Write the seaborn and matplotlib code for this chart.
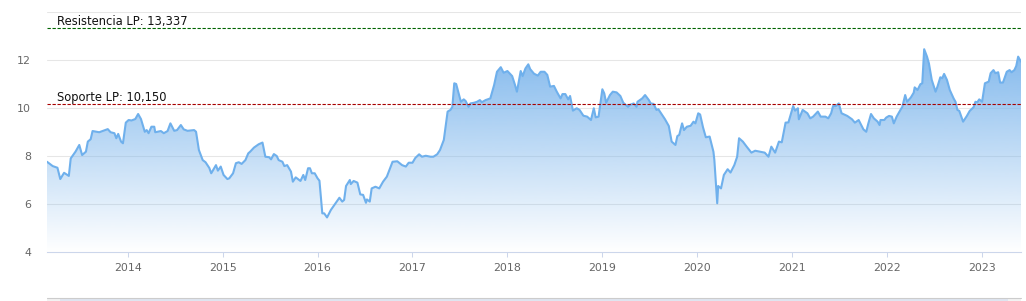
import numpy as np
import matplotlib
matplotlib.use("Agg")
import matplotlib.pyplot as plt
from matplotlib.patches import Polygon, Rectangle
from matplotlib.lines import Line2D
import seaborn as sns

# ---------------- data ----------------
years = [
    2013.15, 2013.21, 2013.26, 2013.29, 2013.33, 2013.38, 2013.40, 2013.45, 2013.49, 2013.52,
    2013.56, 2013.58, 2013.61, 2013.63, 2013.70, 2013.79, 2013.82, 2013.86, 2013.88, 2013.90,
    2013.93, 2013.95, 2013.98, 2014.01, 2014.04, 2014.08, 2014.11, 2014.14, 2014.18, 2014.20,
    2014.22, 2014.25, 2014.28, 2014.29, 2014.35, 2014.38, 2014.42, 2014.45, 2014.49, 2014.52,
    2014.56, 2014.59, 2014.63, 2014.70, 2014.72, 2014.75, 2014.79, 2014.82, 2014.86, 2014.88,
    2014.93, 2014.95, 2014.98, 2015.01, 2015.05, 2015.07, 2015.11, 2015.14, 2015.17, 2015.20,
    2015.24, 2015.27, 2015.29, 2015.33, 2015.38, 2015.42, 2015.45, 2015.49, 2015.51, 2015.54,
    2015.57, 2015.59, 2015.63, 2015.65, 2015.68, 2015.72, 2015.74, 2015.77, 2015.82, 2015.85,
    2015.87, 2015.90, 2015.92, 2015.94, 2015.97, 2016.00, 2016.02, 2016.05, 2016.07, 2016.10,
    2016.14, 2016.19, 2016.23, 2016.26, 2016.28, 2016.30, 2016.34, 2016.35, 2016.38, 2016.42,
    2016.45, 2016.48, 2016.51, 2016.52, 2016.55, 2016.57, 2016.61, 2016.65, 2016.69, 2016.73,
    2016.79, 2016.84, 2016.89, 2016.93, 2016.96, 2017.00, 2017.03, 2017.07, 2017.10, 2017.14,
    2017.19, 2017.22, 2017.26, 2017.29, 2017.33, 2017.37, 2017.40, 2017.42, 2017.44, 2017.46,
    2017.51, 2017.54, 2017.56, 2017.59, 2017.61, 2017.65, 2017.68, 2017.71, 2017.73, 2017.77,
    2017.82, 2017.86, 2017.89, 2017.93, 2017.96, 2018.00, 2018.05, 2018.08, 2018.10, 2018.14,
    2018.16, 2018.19, 2018.22, 2018.24, 2018.28, 2018.32, 2018.35, 2018.39, 2018.42, 2018.45,
    2018.49, 2018.52, 2018.56, 2018.58, 2018.61, 2018.64, 2018.66, 2018.69, 2018.73, 2018.76,
    2018.80, 2018.84, 2018.88, 2018.91, 2018.93, 2018.96, 2019.00, 2019.02, 2019.04, 2019.08,
    2019.11, 2019.15, 2019.19, 2019.22, 2019.27, 2019.29, 2019.33, 2019.36, 2019.37, 2019.42,
    2019.45, 2019.49, 2019.51, 2019.54, 2019.57, 2019.59, 2019.63, 2019.66, 2019.70, 2019.73,
    2019.77, 2019.79, 2019.81, 2019.84, 2019.86, 2019.89, 2019.93, 2019.96, 2019.98, 2020.01,
    2020.03, 2020.06, 2020.09, 2020.13, 2020.17, 2020.18, 2020.21, 2020.22, 2020.25, 2020.28,
    2020.32, 2020.35, 2020.39, 2020.42, 2020.44, 2020.48, 2020.52, 2020.57, 2020.61, 2020.66,
    2020.71, 2020.75, 2020.78, 2020.82, 2020.86, 2020.89, 2020.93, 2020.96, 2021.01, 2021.03,
    2021.06, 2021.07, 2021.11, 2021.16, 2021.19, 2021.22, 2021.27, 2021.30, 2021.35, 2021.38,
    2021.41, 2021.43, 2021.46, 2021.49, 2021.52, 2021.58, 2021.63, 2021.66, 2021.70, 2021.75,
    2021.78, 2021.80, 2021.83, 2021.86, 2021.90, 2021.92, 2021.93, 2021.97, 2021.99, 2022.02,
    2022.05, 2022.07, 2022.10, 2022.14, 2022.16, 2022.19, 2022.21, 2022.25, 2022.28, 2022.29,
    2022.32, 2022.35, 2022.37, 2022.39, 2022.42, 2022.44, 2022.47, 2022.51, 2022.53, 2022.56,
    2022.58, 2022.60, 2022.63, 2022.66, 2022.70, 2022.72, 2022.74, 2022.76, 2022.80, 2022.84,
    2022.87, 2022.91, 2022.93, 2022.95, 2022.97, 2023.00, 2023.03, 2023.07, 2023.09, 2023.12,
    2023.14, 2023.17, 2023.19, 2023.22, 2023.26, 2023.29, 2023.31, 2023.34, 2023.36, 2023.38,
    2023.41,
]
prices = [
    7.76, 7.58, 7.51, 7.04, 7.30, 7.17, 7.90, 8.18, 8.46, 8.04,
    8.18, 8.60, 8.70, 9.04, 8.99, 9.12, 8.99, 8.95, 8.74, 8.92,
    8.60, 8.53, 9.39, 9.50, 9.48, 9.54, 9.75, 9.54, 9.01, 9.08,
    8.95, 9.22, 9.22, 8.99, 9.04, 8.95, 9.04, 9.36, 9.05, 9.08,
    9.29, 9.11, 9.05, 9.08, 9.01, 8.25, 7.83, 7.74, 7.50, 7.28,
    7.62, 7.39, 7.56, 7.21, 7.04, 7.07, 7.28, 7.70, 7.74, 7.67,
    7.83, 8.11, 8.18, 8.35, 8.49, 8.56, 7.97, 7.95, 7.86, 8.08,
    8.00, 7.83, 7.76, 7.58, 7.62, 7.35, 6.93, 7.11, 6.96, 7.21,
    7.00, 7.49, 7.49, 7.28, 7.28, 7.07, 6.97, 5.61, 5.61, 5.44,
    5.75, 6.03, 6.26, 6.10, 6.17, 6.75, 7.00, 6.83, 6.96, 6.89,
    6.40, 6.38, 6.05, 6.19, 6.10, 6.65, 6.72, 6.65, 6.93, 7.14,
    7.76, 7.78, 7.62, 7.56, 7.72, 7.72, 7.92, 8.07, 7.97, 8.01,
    7.97, 7.97, 8.07, 8.25, 8.67, 9.85, 9.92, 10.05, 11.03, 11.00,
    10.26, 10.36, 10.29, 10.05, 10.19, 10.22, 10.26, 10.33, 10.24, 10.33,
    10.40, 10.96, 11.51, 11.70, 11.47, 11.54, 11.33, 10.96, 10.68, 11.54,
    11.33, 11.65, 11.82, 11.62, 11.43, 11.35, 11.51, 11.51, 11.38, 10.89,
    10.92, 10.68, 10.40, 10.58, 10.58, 10.36, 10.50, 9.89, 9.99, 9.92,
    9.68, 9.64, 9.50, 9.99, 9.61, 9.64, 10.78, 10.61, 10.22, 10.54,
    10.68, 10.65, 10.50, 10.22, 10.05, 10.13, 10.19, 10.05, 10.26, 10.40,
    10.54, 10.33, 10.19, 10.17, 9.92, 9.95, 9.71, 9.53, 9.25, 8.60,
    8.46, 8.83, 8.88, 9.36, 9.08, 9.22, 9.26, 9.43, 9.36, 9.78,
    9.73, 9.20, 8.78, 8.81, 8.18, 7.83, 6.03, 6.75, 6.65, 7.21,
    7.45, 7.31, 7.62, 7.97, 8.74, 8.60, 8.39, 8.14, 8.22, 8.18,
    8.14, 7.97, 8.39, 8.14, 8.60, 8.57, 9.39, 9.40, 10.08, 9.89,
    9.99, 9.53, 9.92, 9.78, 9.57, 9.64, 9.85, 9.64, 9.64, 9.57,
    9.78, 10.08, 10.08, 10.19, 9.78, 9.67, 9.53, 9.39, 9.50, 9.11,
    9.01, 9.33, 9.75, 9.57, 9.43, 9.29, 9.50, 9.50, 9.60, 9.67,
    9.64, 9.36, 9.64, 9.92, 10.05, 10.54, 10.26, 10.44, 10.64, 10.86,
    10.75, 10.99, 11.03, 12.45, 12.14, 11.86, 11.17, 10.68, 10.89, 11.28,
    11.24, 11.42, 11.17, 10.75, 10.40, 10.26, 9.92, 9.88, 9.43, 9.67,
    9.88, 10.03, 10.26, 10.24, 10.36, 10.26, 11.03, 11.10, 11.45, 11.58,
    11.45, 11.49, 11.06, 11.06, 11.51, 11.58, 11.49, 11.58, 11.75, 12.14,
    11.93,
]
year_ticks = [2014, 2015, 2016, 2017, 2018, 2019, 2020, 2021, 2022, 2023]
y_ticks = [4, 6, 8, 10, 12, 14]
y_tick_labels = ["4", "6", "8", "10", "12", ""]
resistance = 13.337
support = 10.150
resistance_label = "Resistencia LP: 13,337"
support_label = "Soporte LP: 10,150"

# ---------------- style ----------------
sns.set_theme(style="white")
plt.rcParams["font.family"] = ["DejaVu Sans"]

W, H = 1026, 301
fig = plt.figure(figsize=(W / 100, H / 100), dpi=100)
left_px, right_px, top_px, bot_px = 47, 1021, 12, 252
ax = fig.add_axes([left_px / W, 1 - bot_px / H, (right_px - left_px) / W, (bot_px - top_px) / H])

x0, x1 = years[0], years[-1]
ymin, ymax = 4, 14
ax.set_xlim(x0, x1)
ax.set_ylim(ymin, ymax)

# grid
for v in y_ticks[1:]:
    ax.axhline(v, color="#e6e6e6", lw=0.75, zorder=0.5)

# gradient area fill
xs = np.asarray(years)
ys = np.asarray(prices)
verts = np.column_stack([np.r_[xs[0], xs, xs[-1]], np.r_[ymin, ys, ymin]])
poly = Polygon(verts, closed=True, facecolor="none", edgecolor="none")
ax.add_patch(poly)
n = 256
vals = np.linspace(ymin, ymax, n)
alpha = np.clip((vals - ymin) / (12.45 - ymin), 0, 1) * 0.95
grad = np.zeros((n, 1, 4))
base = np.array([124, 181, 236]) / 255
grad[:, 0, :3] = base
grad[:, 0, 3] = alpha
im = ax.imshow(grad, extent=[x0, x1, ymin, ymax], origin="lower", aspect="auto",
               zorder=1, interpolation="bilinear")
im.set_clip_path(poly)

# line
sns.lineplot(x=years, y=prices, color="#6fb0ec", linewidth=1.5, ax=ax, zorder=3)

# support / resistance
ax.axhline(resistance, color="#006400", lw=0.8, linestyle=(0, (3, 1.5)), zorder=4)
ax.axhline(support, color="#a80000", lw=0.8, linestyle=(0, (3, 1.5)), zorder=4)
for v, lab in [(resistance, resistance_label), (support, support_label)]:
    ax.annotate(lab, xy=(0, v), xycoords=("axes fraction", "data"),
                xytext=(7.3, 2.3), textcoords="offset points",
                va="baseline", ha="left", fontsize=8.3, color="#111111", zorder=5)

# axes styling
for s in ["left", "right", "top"]:
    ax.spines[s].set_visible(False)
ax.spines["bottom"].set_color("#ccd6eb")
ax.spines["bottom"].set_linewidth(0.8)
ax.set_xticks(year_ticks)
ax.set_xticklabels([str(y) for y in year_ticks])
ax.set_yticks(y_ticks)
ax.set_yticklabels(y_tick_labels)
ax.tick_params(axis="x", bottom=True, length=3.6, width=0.75, color="#ccd6eb",
               pad=4.0, labelsize=7.9, labelcolor="#666666")
ax.tick_params(axis="y", left=False, length=0, pad=11.5, labelsize=7.9, labelcolor="#666666")
ax.set_xlabel("")
ax.set_ylabel("")
ax.grid(False)

# navigator strip at the bottom
fig.patches.append(Rectangle((left_px / W, 0), (right_px - left_px) / W, 3.2 / H,
                             transform=fig.transFigure, facecolor="#f2f2f2",
                             edgecolor="none", zorder=0))
fig.patches.append(Rectangle((60 / W, 0), (1008 - 60) / W, 3.2 / H,
                             transform=fig.transFigure, facecolor="#dfe5f0",
                             edgecolor="none", zorder=1))
fig.lines.append(Line2D([left_px / W, right_px / W], [3.2 / H, 3.2 / H],
                        transform=fig.transFigure, color="#cccccc", lw=0.8))

fig.savefig("out.png", dpi=100)
